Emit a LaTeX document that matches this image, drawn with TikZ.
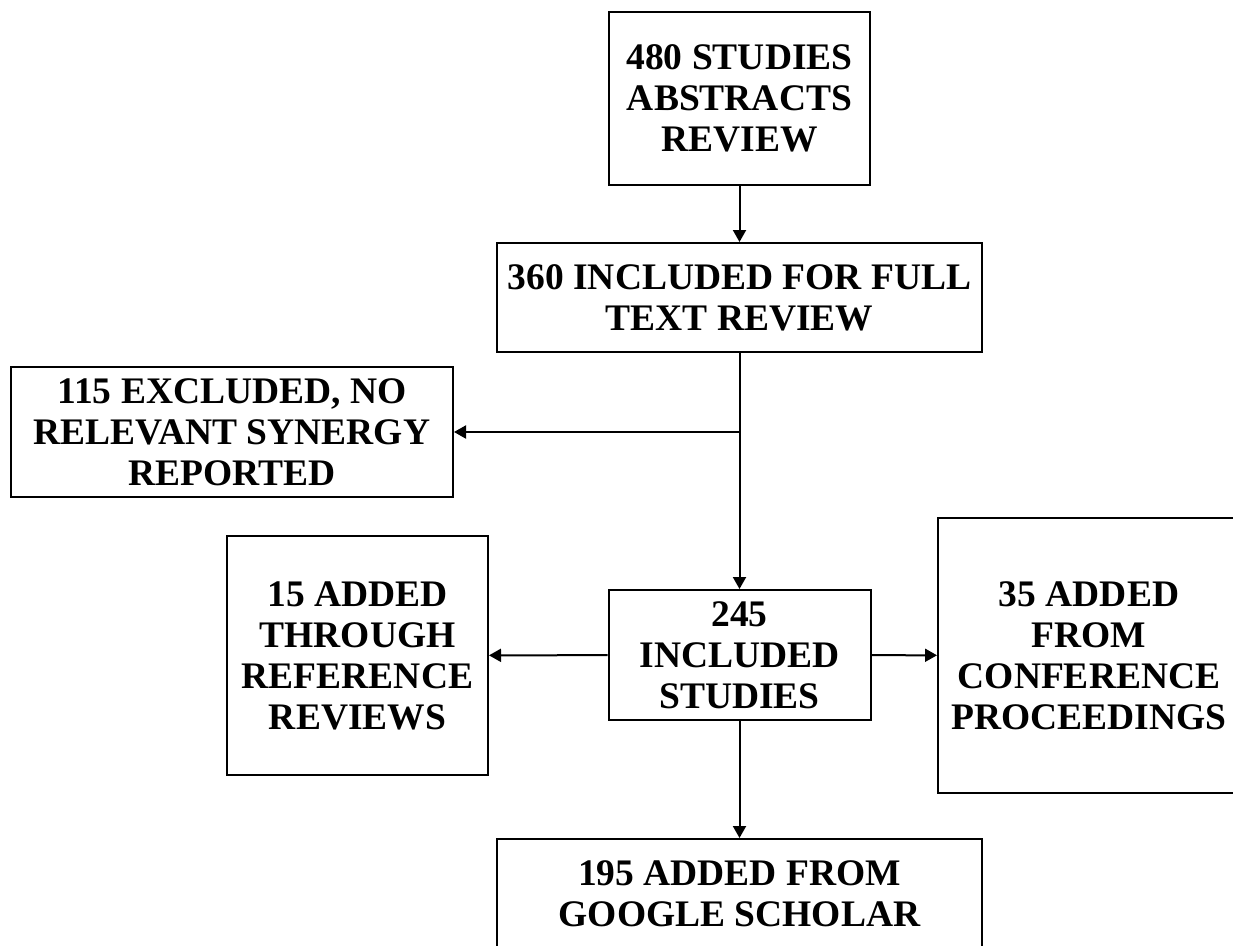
\documentclass[tikz,border=0pt]{standalone}
\usepackage{fontspec}
\setmainfont{Liberation Serif}
\usetikzlibrary{arrows.meta}

\tikzset{
  stage/.style={draw, line width=2pt, inner sep=0pt, align=center,
    font=\fontsize{37.5}{41}\selectfont\bfseries},
  flow/.style={line width=2pt, -{Triangle[length=12pt,width=13pt]}}
}

\begin{document}
\begin{tikzpicture}[x=1pt,y=-1pt]
\useasboundingbox (0,0) rectangle (1233,945);
\node[stage, minimum width=261pt, minimum height=173pt] (b480) at (739.5,98.5) {480 STUDIES\\ABSTRACTS\\REVIEW};
\node[stage, minimum width=485pt, minimum height=109pt] (b360) at (739.5,297.5) {360 INCLUDED FOR FULL\\TEXT REVIEW};
\node[stage, minimum width=442pt, minimum height=130pt] (b115) at (232,432) {115 EXCLUDED, NO\\RELEVANT SYNERGY\\REPORTED};
\node[stage, minimum width=262pt, minimum height=130pt] (b245) at (739.5,655) {245\\INCLUDED\\STUDIES};
\node[stage, minimum width=261pt, minimum height=239pt] (b15) at (357.5,655.5) {15 ADDED\\THROUGH\\REFERENCE\\REVIEWS};
\node[stage, minimum width=302pt, minimum height=275pt] (b35) at (1089,655.5) {35 ADDED\\FROM\\CONFERENCE\\PROCEEDINGS};
\node[stage, minimum width=485pt, minimum height=110pt] (b195) at (739.5,894) {195 ADDED FROM\\GOOGLE SCHOLAR};
\coordinate (split) at (b360.south |- b115.east);
\draw[flow] (b480) -- (b360);
\draw[flow] (b360) -- (b245);
\draw[flow] (split) -- (b115);
\draw[flow] (b245) -- (b15);
\draw[flow] (b245) -- (b35);
\draw[flow] (b245) -- (b195);
\end{tikzpicture}
\end{document}
